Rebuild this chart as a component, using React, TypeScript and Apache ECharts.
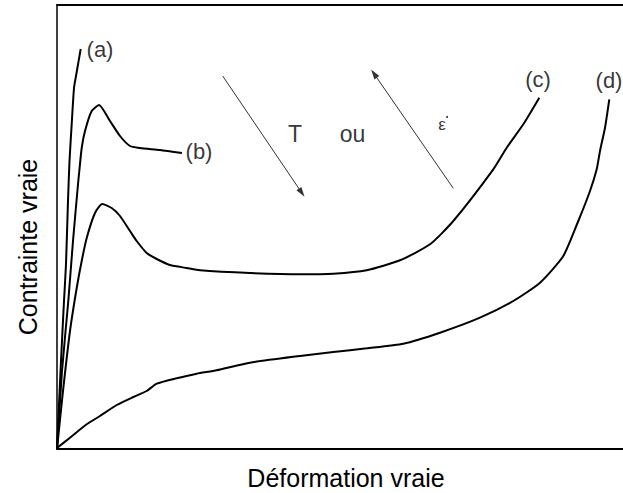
import React, { useEffect, useRef } from "react";
import * as echarts from "echarts";

// Curves: [strain, stress] in arbitrary units
const curveA: [number, number][] = [
  [0, 0], [4, 88], [7, 148], [9, 185], [11, 248], [12.5, 288], [14.7, 325], [17, 361], [19, 373], [23.7, 400],
];
const curveB: [number, number][] = [
  [0, 0], [5, 78], [11.3, 148], [16, 208], [21.3, 268], [22.3, 278], [24.7, 301], [28, 318], [34.7, 338],
  [42, 344], [53, 328], [63, 313], [73, 303], [83, 301], [103, 299], [125, 296],
];
const curveC: [number, number][] = [
  [0, 0], [6, 58], [13, 118], [19.7, 161], [24.7, 188], [29.7, 211], [38, 236], [45.3, 245], [54.7, 241],
  [63, 233], [73, 218], [79.7, 208], [89.7, 196], [99.7, 190], [113, 184], [129.7, 181], [143, 178.7],
  [193, 176], [243, 174.7], [276.3, 175.3], [309.7, 178.7], [343, 188.7], [373, 204.7], [396.3, 228],
  [436.3, 279.7], [449.7, 301.3], [466.3, 324.7], [482.3, 351.3],
];
const curveD: [number, number][] = [
  [0, 1], [13, 11.3], [29.7, 24.7], [43, 33], [59.7, 44], [76.3, 52], [89.7, 58], [99.7, 65.3], [119.7, 70.7],
  [139.7, 75.3], [159.7, 78.7], [193, 86.3], [243, 93], [276.3, 97], [309.7, 100.7], [346.3, 105.3],
  [383, 116.3], [423, 131.3], [456.3, 148], [483, 166.3], [506.3, 193], [521.3, 228], [533, 258],
  [539.7, 279.7], [543, 298], [548, 321.3], [552.3, 349.7],
];

// Curve labels
const curveLabels: { name: string; value: [number, number] }[] = [
  { name: "(a)", value: [43, 400] },
  { name: "(b)", value: [142, 298] },
  { name: "(c)", value: [481, 370] },
  { name: "(d)", value: [552, 369] },
];

// Annotation texts
const bigNotes: { name: string; value: [number, number] }[] = [
  { name: "T", value: [238, 315] },
  { name: "ou", value: [295.5, 315] },
];
const smallNotes: { name: string; value: [number, number] }[] = [
  { name: "ε", value: [385, 325] },
];
const epsDot: [number, number][] = [[390, 332]];

// Arrows: [start, end]
const arrows: [[number, number], [number, number]][] = [
  [[165.7, 373], [244.7, 256.3]],
  [[396.3, 260.7], [317, 375.3]],
];

const X_MAX = 566;
const Y_MAX = 444;
const FONT = "'Liberation Sans', Arial, sans-serif";

export default function App() {
  const ref = useRef<HTMLDivElement>(null);
  useEffect(() => {
    if (!ref.current) return;
    const chart = echarts.init(ref.current, undefined, { renderer: "svg" });
    const lineSeries = (data: [number, number][], name: string) => ({
      type: "line",
      name,
      data,
      showSymbol: false,
      smooth: 0.2,
      silent: true,
      lineStyle: { color: "#000", width: 2 },
      z: 3,
    });
    const textSeries = (data: { name: string; value: [number, number] }[], size: number) => ({
      type: "scatter",
      data,
      symbolSize: 0,
      silent: true,
      label: {
        show: true, position: "inside", formatter: "{b}",
        color: "#000", fontSize: size, fontFamily: FONT,
      },
    });
    chart.setOption({
      animation: false,
      backgroundColor: "#fff",
      textStyle: { fontFamily: FONT },
      grid: { left: 57, right: 0, top: 5, bottom: 44 },
      xAxis: [
        {
          type: "value", min: 0, max: X_MAX, position: "bottom",
          axisLine: { show: true, onZero: false, lineStyle: { color: "#000", width: 2 } },
          axisTick: { show: false }, axisLabel: { show: false }, splitLine: { show: false },
        },
        {
          type: "value", min: 0, max: X_MAX, position: "top",
          axisLine: { show: true, onZero: false, lineStyle: { color: "#000", width: 2 } },
          axisTick: { show: false }, axisLabel: { show: false }, splitLine: { show: false },
        },
      ],
      yAxis: {
        type: "value", min: 0, max: Y_MAX,
        axisLine: { show: true, onZero: false, lineStyle: { color: "#000", width: 1.5 } },
        axisTick: { show: false }, axisLabel: { show: false }, splitLine: { show: false },
      },
      graphic: [
        {
          type: "text", x: 346, y: 478,
          style: { text: "Déformation vraie", font: `25px ${FONT}`, fill: "#000", align: "center", verticalAlign: "middle" },
        },
        {
          type: "text", x: 28, y: 247, rotation: Math.PI / 2,
          style: { text: "Contrainte vraie", font: `25px ${FONT}`, fill: "#000", align: "center", verticalAlign: "middle" },
        },
      ],
      series: [
        lineSeries(curveA, "a"),
        lineSeries(curveB, "b"),
        lineSeries(curveC, "c"),
        lineSeries(curveD, "d"),
        {
          type: "line",
          data: [],
          silent: true,
          markLine: {
            silent: true,
            symbol: ["none", "triangle"],
            symbolSize: [6, 10],
            label: { show: false },
            lineStyle: { color: "#333", width: 1, type: "solid" },
            data: arrows.map(([s, e]) => [{ coord: s }, { coord: e }]),
          },
        },
        textSeries(curveLabels, 22),
        textSeries(bigNotes, 23),
        textSeries(smallNotes, 17),
        {
          type: "scatter",
          data: epsDot,
          symbol: "circle",
          symbolSize: 2,
          silent: true,
          itemStyle: { color: "#000" },
        },
      ],
    });
    return () => chart.dispose();
  }, []);
  return (
    <div
      ref={ref}
      style={{ position: "fixed", left: 0, top: 0, width: 623, height: 493, background: "#fff" }}
    />
  );
}
